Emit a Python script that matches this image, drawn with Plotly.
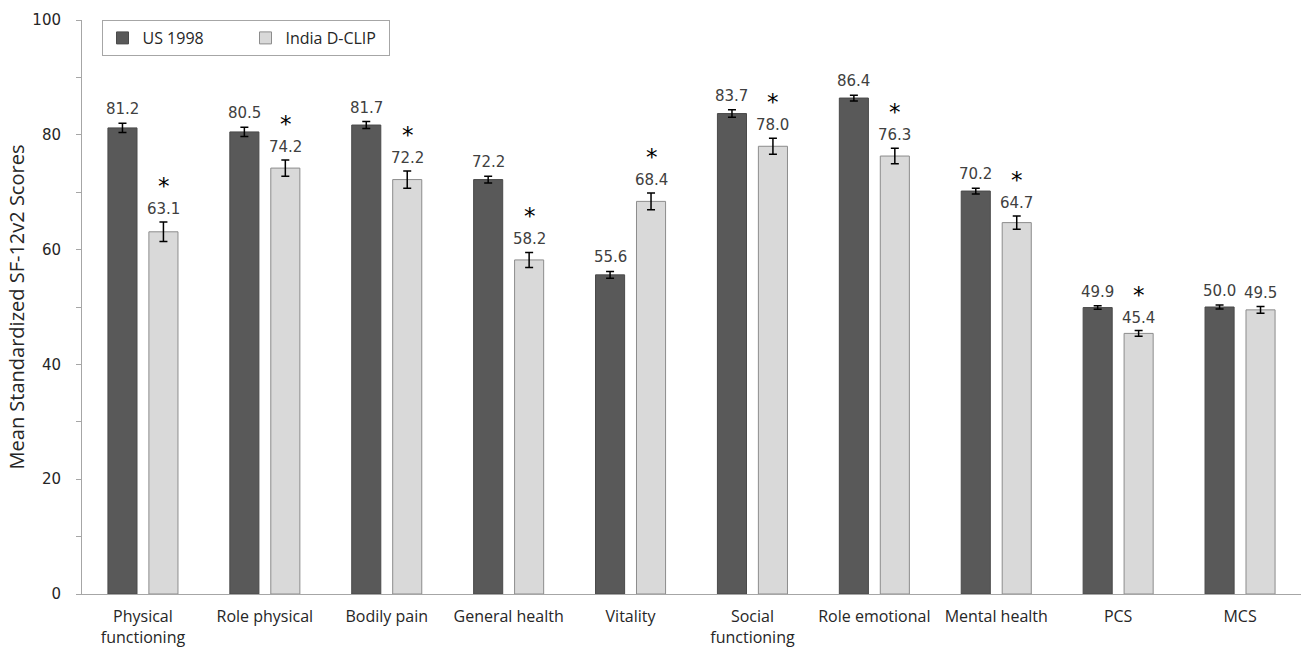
import plotly.graph_objects as go

# SF-12v2 domain and summary scores
categories = ["Physical<br>functioning", "Role physical", "Bodily pain", "General health",
              "Vitality", "Social<br>functioning", "Role emotional", "Mental health",
              "PCS", "MCS"]
us_1998 = [81.2, 80.5, 81.7, 72.2, 55.6, 83.7, 86.4, 70.2, 49.9, 50.0]
us_err = [0.8, 0.8, 0.6, 0.6, 0.6, 0.65, 0.5, 0.5, 0.3, 0.35]
india_dclip = [63.1, 74.2, 72.2, 58.2, 68.4, 78.0, 76.3, 64.7, 45.4, 49.5]
india_err = [1.7, 1.4, 1.5, 1.3, 1.45, 1.4, 1.35, 1.15, 0.5, 0.6]
significant = [True, True, True, True, True, True, True, True, True, False]

W, H = 1303, 651
M_L, M_R, M_T, M_B = 82, 2, 20, 57
BARGAP = 0.328
plot_w = W - M_L - M_R
slot_px = plot_w / len(categories) * (1 - BARGAP) / 2
half = slot_px / 2

label_font = dict(family="DejaVu Sans", size=15, color="#404040")
STAR = "<span style='font-size:23px;color:black'>*</span><br>"

fig = go.Figure()
fig.add_trace(go.Bar(
    x=categories, y=us_1998, name="US 1998",
    marker=dict(color="#595959", line=dict(color="#4a4a4a", width=1)),
    error_y=dict(type="data", array=us_err, color="black", thickness=1.5, width=4),
))
fig.add_trace(go.Bar(
    x=categories, y=india_dclip, name="India D-CLIP",
    marker=dict(color="#d9d9d9", line=dict(color="#8c8c8c", width=1)),
    error_y=dict(type="data", array=india_err, color="black", thickness=1.5, width=4),
))

annotations = []
for cat, v, e in zip(categories, us_1998, us_err):
    annotations.append(dict(x=cat, y=v + e, text=f"{v:.1f}", showarrow=False,
                            xshift=-half, yshift=3, yanchor="bottom", font=label_font))
for cat, v, e, sig in zip(categories, india_dclip, india_err, significant):
    text = (STAR if sig else "") + f"{v:.1f}"
    annotations.append(dict(x=cat, y=v + e, text=text, showarrow=False,
                            xshift=half, yshift=2, yanchor="bottom", font=label_font))

fig.update_layout(
    width=W, height=H,
    margin=dict(l=M_L, r=M_R, t=M_T, b=M_B),
    plot_bgcolor="white", paper_bgcolor="white",
    barmode="group", bargap=BARGAP, bargroupgap=0.29,
    showlegend=True,
    legend=dict(
        orientation="h", x=0.016, y=1.0, xanchor="left", yanchor="top",
        bordercolor="#a6a6a6", borderwidth=1, bgcolor="white",
        font=dict(family="Open Sans", size=16, color="#262626"),
        entrywidth=98, entrywidthmode="pixels",
        traceorder="normal",
    ),
    annotations=annotations,
    xaxis=dict(
        showline=True, linecolor="#a6a6a6", linewidth=1, ticks="",
        tickfont=dict(family="Open Sans", size=16, color="#262626"),
        ticklabelstandoff=8, automargin=False,
        showgrid=False,
    ),
    yaxis=dict(
        range=[0, 100], dtick=20, tick0=0,
        showline=True, linecolor="#a6a6a6", linewidth=1,
        ticks="outside", ticklen=5, tickcolor="#a6a6a6",
        minor=dict(dtick=10, ticks="outside", ticklen=5, tickcolor="#a6a6a6"),
        showgrid=False, zeroline=False, automargin=False,
        ticklabelstandoff=12,
        tickfont=dict(family="DejaVu Sans", size=15, color="#262626"),
        title=dict(text="Mean Standardized SF-12v2 Scores", standoff=2,
                   font=dict(family="Open Sans", size=20, color="#262626")),
    ),
)

fig.write_html("out.html")
